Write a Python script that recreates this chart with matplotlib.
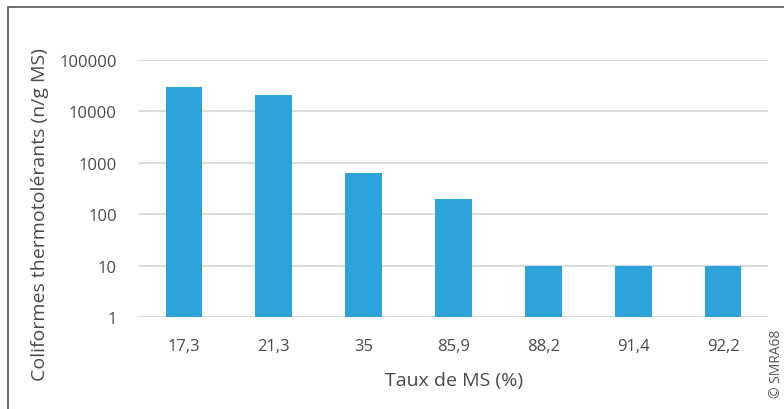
import matplotlib
matplotlib.use('Agg')
import matplotlib.pyplot as plt
from matplotlib.patches import Rectangle

categories = ['17,3', '21,3', '35', '85,9', '88,2', '91,4', '92,2']
values = [30500, 20500, 630, 195, 10, 10, 10]

plt.rcParams['font.family'] = ['Open Sans', 'DejaVu Sans']
text_color = '#4a4a4a'

fig = plt.figure(figsize=(7.84, 4.10), dpi=100)
ax = fig.add_axes([139 / 784, 1 - 318 / 410, 629 / 784, 257 / 410])

x = range(len(categories))
ax.bar(x, values, width=0.41, color='#2EA3DB', zorder=3)
ax.set_yscale('log')
ax.set_ylim(1, 100000)
ax.set_xlim(-0.5, len(categories) - 0.5)
ax.set_yticks([1, 10, 100, 1000, 10000, 100000])
ax.set_yticklabels(['1', '10', '100', '1000', '10000', '100000'])
ax.minorticks_off()
ax.set_xticks(list(x))
ax.set_xticklabels(categories)
ax.tick_params(axis='both', length=0, labelsize=12, labelcolor=text_color)
ax.tick_params(axis='y', pad=16)
ax.tick_params(axis='x', pad=15)
ax.grid(axis='y', color='#D9D9D9', linewidth=1.3, zorder=0)
for s in ax.spines.values():
    s.set_visible(False)

fig.text(40 / 784, 1 - 215 / 410, 'Coliformes thermotolérants (n/g MS)',
         rotation=90, ha='center', va='center', fontsize=14, color=text_color)
fig.text(454 / 784, 1 - 381 / 410, 'Taux de MS (%)',
         ha='center', va='center', fontsize=14, color=text_color)
fig.text(776 / 784, 1 - 364 / 410, '© SMRA68', rotation=90,
         ha='center', va='center', fontsize=10, color='#555555')

# outer frame (top and left edges visible)
fig.add_artist(Rectangle((8 / 784, -0.1), 1.2, 1 - 8 / 410 + 0.1,
                         transform=fig.transFigure, fill=False,
                         edgecolor='#555555', linewidth=1.2))

fig.savefig('out.png', dpi=100)
